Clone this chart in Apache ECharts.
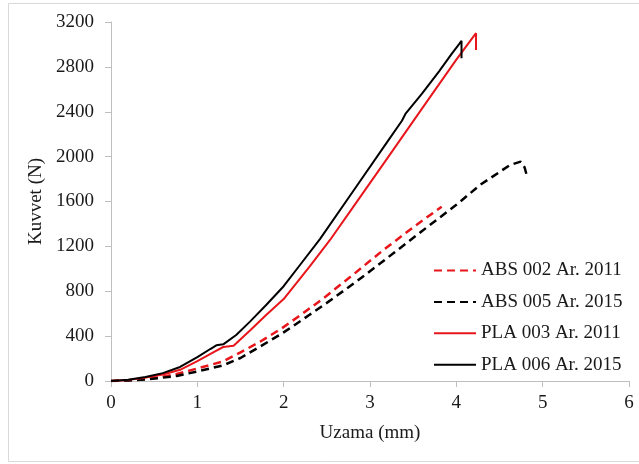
<!DOCTYPE html>
<html>
<head>
<meta charset="utf-8">
<script src="https://cdn.jsdelivr.net/npm/echarts@6/dist/echarts.min.js"></script>
<style>
html,body{margin:0;padding:0;background:#fff;}
#chart{width:639px;height:464px;}
</style>
</head>
<body>
<div id="chart"></div>
<script>
// ---- data ----
var seriesNames = ['ABS 002 Ar. 2011', 'ABS 005 Ar. 2015', 'PLA 003 Ar. 2011', 'PLA 006 Ar. 2015'];

var abs002X = [0, 0.2, 0.4, 0.6, 0.76, 1.0, 1.3, 1.5, 1.726, 1.977, 2.2, 2.46, 2.8, 3.155, 3.5, 3.83];
var abs002Y = [0, 6, 18, 38, 62, 112, 175, 255, 350, 469, 590, 737, 945, 1168, 1370, 1554];

var abs005X = [0, 0.2, 0.4, 0.6, 0.76, 1.0, 1.3, 1.5, 1.726, 1.996, 2.3, 2.575, 2.9, 3.27, 3.6, 4.0, 4.274, 4.506, 4.62, 4.745, 4.79, 4.815];
var abs005Y = [0, 5, 14, 30, 45, 85, 140, 205, 306, 431, 590, 737, 920, 1138, 1335, 1570, 1747, 1866, 1925, 1955, 1905, 1836];

var pla003X = [0, 0.2, 0.4, 0.6, 0.8, 1.0, 1.2, 1.3, 1.42, 1.61, 1.8, 2.0, 2.3, 2.537, 2.8, 3.2, 3.6, 4.0, 4.228, 4.228];
var pla003Y = [0, 10, 30, 58, 100, 178, 262, 303, 315, 450, 590, 730, 1020, 1257, 1545, 1985, 2425, 2865, 3100, 2950];

var pla006X = [0, 0.2, 0.4, 0.6, 0.8, 1.0, 1.15, 1.22, 1.3, 1.45, 1.61, 1.8, 2.0, 2.2, 2.42, 2.8, 3.2, 3.37, 3.41, 3.43, 3.6, 3.8, 3.95, 4.03, 4.06, 4.06];
var pla006Y = [0, 12, 35, 70, 125, 212, 285, 318, 327, 410, 529, 680, 845, 1045, 1265, 1687, 2131, 2320, 2380, 2378, 2560, 2760, 2920, 3000, 3033, 2876];

var xTicks = [0, 1, 2, 3, 4, 5, 6];
var yTicks = [0, 400, 800, 1200, 1600, 2000, 2400, 2800, 3200];

var xTitle = 'Uzama (mm)';
var yTitle = 'Kuvvet (N)';

function pairs(xs, ys) {
  var out = [];
  for (var i = 0; i < xs.length; i++) out.push([xs[i], ys[i]]);
  return out;
}

var RED = '#e8161b';
var BLACK = '#000000';
var FONT = "'Liberation Serif', 'Times New Roman', serif";

var chart = echarts.init(document.getElementById('chart'), null, {renderer: 'canvas'});

function mkSeries(name, xs, ys, color, dashed) {
  return {
    name: name,
    type: 'line',
    data: pairs(xs, ys),
    symbol: 'none',
    smooth: false,
    lineStyle: {color: color, width: dashed ? 2.5 : 2, type: dashed ? [8, 5] : 'solid'},
    itemStyle: {color: color},
    z: 3
  };
}

var option = {
  animation: false,
  backgroundColor: '#ffffff',
  graphic: [{
    type: 'rect',
    shape: {x: 8.5, y: 3.5, width: 660, height: 458},
    style: {fill: 'none', stroke: '#d9d9d9', lineWidth: 1},
    silent: true
  }],
  grid: {left: 111, right: 10, top: 22, bottom: 83, containLabel: false},
  legend: {
    orient: 'vertical',
    left: 428,
    top: 256,
    itemWidth: 42,
    itemHeight: 14,
    itemGap: 12.4,
    data: seriesNames,
    itemStyle: {opacity: 0, borderWidth: 0},
    textStyle: {fontFamily: FONT, fontSize: 19, color: '#1a1a1a'}
  },
  xAxis: {
    type: 'value',
    min: xTicks[0],
    max: xTicks[xTicks.length - 1],
    interval: 1,
    name: xTitle,
    nameLocation: 'middle',
    nameGap: 43,
    nameTextStyle: {fontFamily: FONT, fontSize: 19, color: '#1a1a1a'},
    axisLine: {show: true, lineStyle: {color: '#bfbfbf', width: 1}},
    axisTick: {show: true, length: 6, inside: false, lineStyle: {color: '#bfbfbf'}},
    axisLabel: {fontFamily: FONT, fontSize: 19, color: '#1a1a1a', margin: 13, formatter: function (v) { return String(v); }},
    splitLine: {show: false}
  },
  yAxis: {
    type: 'value',
    min: yTicks[0],
    max: yTicks[yTicks.length - 1],
    interval: 400,
    name: yTitle,
    nameLocation: 'middle',
    nameGap: 57,
    nameTextStyle: {fontFamily: FONT, fontSize: 19, color: '#1a1a1a'},
    axisLine: {show: true, lineStyle: {color: '#bfbfbf', width: 1}},
    axisTick: {show: true, length: 6, inside: false, lineStyle: {color: '#bfbfbf'}},
    axisLabel: {fontFamily: FONT, fontSize: 19, color: '#1a1a1a', margin: 17, formatter: function (v) { return String(v); }},
    splitLine: {show: false}
  },
  series: [
    mkSeries(seriesNames[0], abs002X, abs002Y, RED, true),
    mkSeries(seriesNames[1], abs005X, abs005Y, BLACK, true),
    mkSeries(seriesNames[2], pla003X, pla003Y, RED, false),
    mkSeries(seriesNames[3], pla006X, pla006Y, BLACK, false)
  ]
};

chart.setOption(option);
</script>
</body>
</html>
